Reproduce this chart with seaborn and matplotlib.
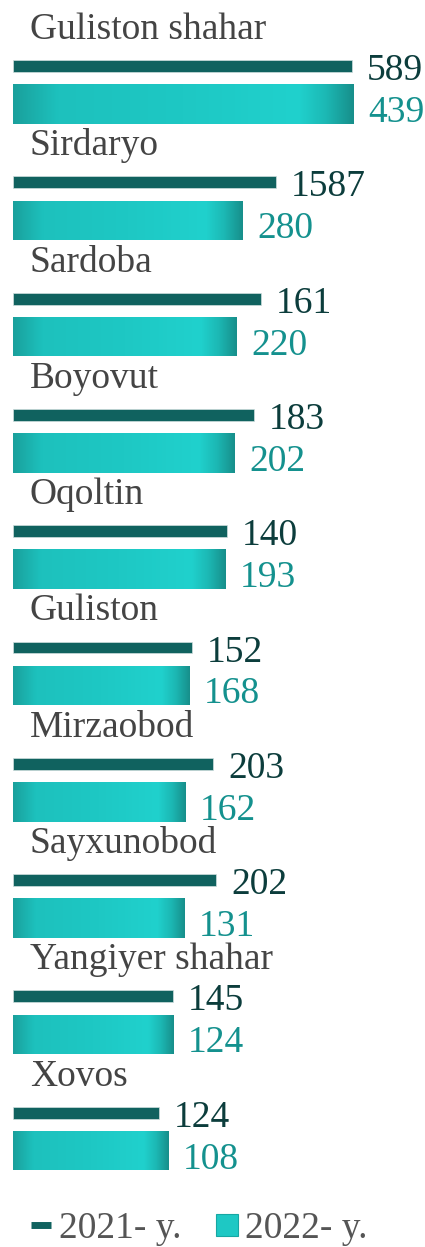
import numpy as np
import pandas as pd
import seaborn as sns
import matplotlib
matplotlib.use("Agg")
import matplotlib.pyplot as plt
from matplotlib.colors import LinearSegmentedColormap
from matplotlib.lines import Line2D

# ---- data ----
regions = ["Guliston shahar", "Sirdaryo", "Sardoba", "Boyovut", "Oqoltin",
           "Guliston", "Mirzaobod", "Sayxunobod", "Yangiyer shahar", "Xovos"]
labels_2021 = ["589", "1587", "161", "183", "140", "152", "203", "202", "145", "124"]
labels_2022 = ["439", "280", "220", "202", "193", "168", "162", "131", "124", "108"]
# bar lengths as drawn in the source graphic (arbitrary units)
len_2021 = [339, 263, 248, 241, 214, 179, 200, 203, 160, 146]
len_2022 = [341, 230, 224, 222, 213, 177, 173, 172, 161, 156]
series_names = ["2021- y.", "2022- y."]

df = pd.DataFrame({"region": regions, "len_2021": len_2021, "len_2022": len_2022})

# ---- style ----
W, H, DPI = 425, 1247, 100
sns.set_theme(style="white")
plt.rcParams["font.family"] = ["Liberation Serif", "DejaVu Serif"]
FS = 27
DARK = "#10625f"
CYAN = "#1ec8c4"
DARK_TXT = "#0c3d3c"
CYAN_TXT = "#14918e"
CAT_TXT = "#444444"

SPACING = 116.3          # px between groups
LEFT_PX = 13
px = lambda v: v / SPACING
OFF = px(19)
H_DARK = px(12)
H_CYAN = px(39.5)

fig = plt.figure(figsize=(W / DPI, H / DPI), dpi=DPI)
ax = fig.add_axes([0, 0, 1, 1])

sns.barplot(data=df, y="region", x="len_2021", orient="h", color=DARK,
            width=H_DARK, saturation=1, ax=ax, edgecolor="#cfdede", linewidth=0.5)
dark_patches = list(ax.patches)
for p in dark_patches:
    p.set_y(p.get_y() - OFF)

sns.barplot(data=df, y="region", x="len_2022", orient="h", color=CYAN,
            width=H_CYAN, saturation=1, ax=ax, linewidth=0)
cyan_patches = [p for p in ax.patches if p not in dark_patches]
for p in cyan_patches:
    p.set_y(p.get_y() + OFF)

# gradient shading on 2022 bars
cmap = LinearSegmentedColormap.from_list("cyl", [
    (0.0, "#1aa09c"), (0.13, "#1dc1bd"), (0.5, "#1ec8c4"),
    (0.84, "#20d1cd"), (0.92, "#1cb8b4"), (1.0, "#178f8b")])
grad = np.linspace(0, 1, 256)[None, :]
for p in cyan_patches:
    x0, y0, w, h = p.get_x(), p.get_y(), p.get_width(), p.get_height()
    im = ax.imshow(grad, cmap=cmap, extent=(x0, x0 + w, y0 + h, y0),
                   aspect="auto", interpolation="bilinear", zorder=p.get_zorder() + 0.1)
    im.set_clip_path(p)

# text
for i, name in enumerate(regions):
    ax.text(30 - LEFT_PX, i - px(46), name, color=CAT_TXT,
            fontsize=FS, ha="left", va="baseline")
for i, p in enumerate(dark_patches):
    ax.text(p.get_width() + 15, i - OFF + px(14), labels_2021[i], color=DARK_TXT,
            fontsize=FS, ha="left", va="baseline")
for i, p in enumerate(cyan_patches):
    ax.text(p.get_width() + 14, i + OFF + px(18), labels_2022[i], color=CYAN_TXT,
            fontsize=FS, ha="left", va="baseline")

ax.set_xlim(-LEFT_PX, W - LEFT_PX)
ax.set_ylim((H - 85) / SPACING, -85 / SPACING)
ax.axis("off")

handles = [Line2D([], [], color=DARK, lw=5, solid_capstyle="butt"),
           Line2D([], [], color=CYAN, marker="s", markersize=16, linestyle="none",
                  markeredgecolor="#17a7a3", markeredgewidth=0.8)]
fig.legend(handles, series_names, loc="center left",
           bbox_to_anchor=(31 / W, 1 - 1229 / H), frameon=False, ncol=2,
           fontsize=FS, labelcolor="#555555", handlelength=0.52,
           handletextpad=0.22, columnspacing=0.95, borderpad=0, borderaxespad=0)

fig.savefig("out.png", dpi=DPI)
